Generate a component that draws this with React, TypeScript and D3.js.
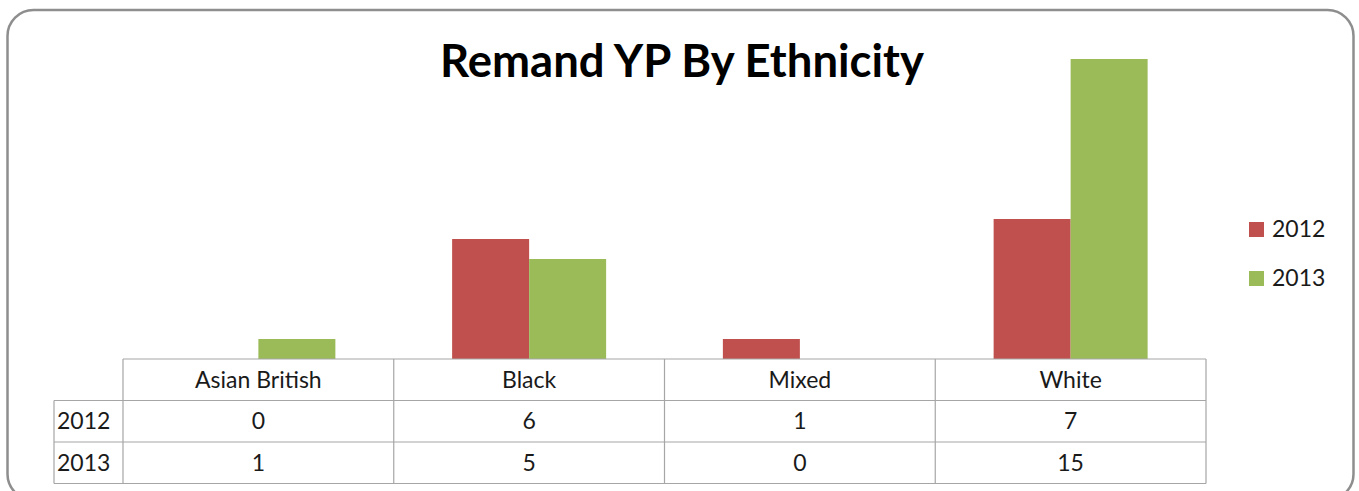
import * as d3 from "d3";
import { useEffect, useRef } from "react";

const categories = ["Asian British", "Black", "Mixed", "White"];
const seriesNames = ["2012", "2013"];
const values2012 = [0, 6, 1, 7];
const values2013 = [1, 5, 0, 15];
const colors = ["#C0504D", "#9BBB59"];
const title = "Remand YP By Ethnicity";

export default function App() {
  const svgRef = useRef<SVGSVGElement | null>(null);

  useEffect(() => {
    const svg = d3.select(svgRef.current);
    const width = 1359;
    const height = 491;
    const font = "Lato, 'Open Sans', sans-serif";

    svg.selectAll("*").remove();
    svg.attr("width", width).attr("height", height);

    // outer rounded frame
    svg
      .append("rect")
      .attr("x", 7.5)
      .attr("y", 10)
      .attr("width", 1346)
      .attr("height", 490)
      .attr("rx", 26)
      .attr("fill", "#fff")
      .attr("stroke", "#8e8e8e")
      .attr("stroke-width", 2.5);

    svg
      .append("text")
      .attr("x", 682)
      .attr("y", 77)
      .attr("text-anchor", "middle")
      .attr("font-family", font)
      .attr("font-weight", "bold")
      .attr("font-size", "46px")
      .attr("textLength", 484)
      .attr("lengthAdjust", "spacingAndGlyphs")
      .attr("fill", "#000")
      .text(title);

    const tableLeft = 123;
    const tableRight = 1206;
    const labelLeft = 54;
    const baseY = 359;
    const rowH = 41.5;

    const x0 = d3.scaleBand<string>().domain(categories).range([tableLeft, tableRight]);
    const barW = 77;
    const x1 = d3
      .scaleBand<string>()
      .domain(seriesNames)
      .range([0, barW * seriesNames.length]);
    const groupOffset = (x0.bandwidth() - barW * seriesNames.length) / 2;

    const y = d3.scaleLinear().domain([0, 15]).range([baseY, 59]);

    const series = [values2012, values2013];

    series.forEach((vals, si) => {
      svg
        .append("g")
        .selectAll("rect")
        .data(vals)
        .enter()
        .append("rect")
        .attr("x", (_, i) => (x0(categories[i]) ?? 0) + groupOffset + (x1(seriesNames[si]) ?? 0))
        .attr("y", (d) => y(d))
        .attr("width", x1.bandwidth())
        .attr("height", (d) => baseY - y(d))
        .attr("fill", colors[si]);
    });

    // data table
    const grid = svg.append("g").attr("stroke", "#a6a6a6").attr("stroke-width", 1.2).attr("fill", "none");
    const bottom = baseY + rowH * 3;
    grid.append("line").attr("x1", tableLeft).attr("x2", tableRight).attr("y1", baseY).attr("y2", baseY);
    [1, 2, 3].forEach((r) => {
      grid
        .append("line")
        .attr("x1", labelLeft)
        .attr("x2", tableRight)
        .attr("y1", baseY + rowH * r)
        .attr("y2", baseY + rowH * r);
    });
    grid.append("line").attr("x1", labelLeft).attr("x2", labelLeft).attr("y1", baseY + rowH).attr("y2", bottom);
    categories.forEach((c) => {
      const xx = x0(c) ?? 0;
      grid.append("line").attr("x1", xx).attr("x2", xx).attr("y1", baseY).attr("y2", bottom);
    });
    grid.append("line").attr("x1", tableRight).attr("x2", tableRight).attr("y1", baseY).attr("y2", bottom);

    const tableText = svg
      .append("g")
      .attr("font-family", font)
      .attr("font-size", "23px")
      .attr("fill", "#1a1a1a");

    tableText
      .selectAll(".cat")
      .data(categories)
      .enter()
      .append("text")
      .attr("x", (d) => (x0(d) ?? 0) + x0.bandwidth() / 2)
      .attr("y", baseY + rowH / 2 + 8)
      .attr("text-anchor", "middle")
      .text((d) => d);

    series.forEach((vals, si) => {
      const rowY = baseY + rowH * (si + 1) + rowH / 2 + 8;
      tableText
        .append("text")
        .attr("x", 57)
        .attr("y", rowY)
        .text(seriesNames[si]);
      vals.forEach((v, i) => {
        tableText
          .append("text")
          .attr("x", (x0(categories[i]) ?? 0) + x0.bandwidth() / 2)
          .attr("y", rowY)
          .attr("text-anchor", "middle")
          .text(v);
      });
    });

    // legend
    const legend = svg.append("g").attr("font-family", font).attr("font-size", "23px");
    seriesNames.forEach((s, i) => {
      const ly = 222 + i * 49;
      legend.append("rect").attr("x", 1249).attr("y", ly).attr("width", 15).attr("height", 15).attr("fill", colors[i]);
      legend
        .append("text")
        .attr("x", 1272)
        .attr("y", ly + 15)
        .attr("fill", "#1a1a1a")
        .text(s);
    });
  }, []);

  return <svg ref={svgRef} style={{ position: "absolute", left: 0, top: 0 }}></svg>;
}
